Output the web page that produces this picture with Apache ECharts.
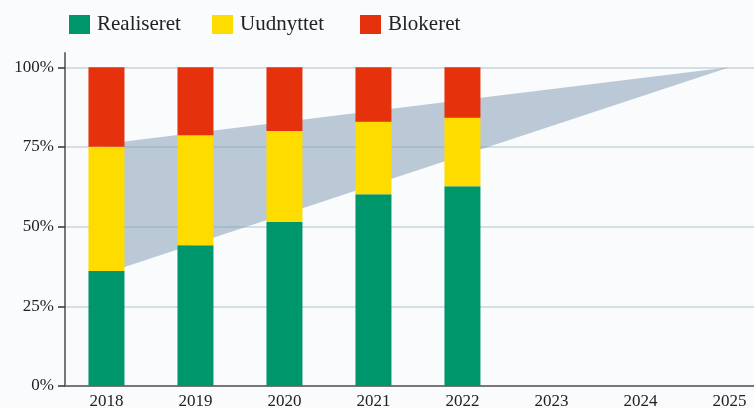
<!DOCTYPE html>
<html>
<head>
<meta charset="utf-8">
<script src="https://cdn.jsdelivr.net/npm/echarts@6/dist/echarts.min.js"></script>
<style>
html,body{margin:0;padding:0;background:#f9fbfd;}
#main{width:754px;height:408px;}
</style>
</head>
<body>
<div id="main"></div>
<script>
var years = [2018, 2019, 2020, 2021, 2022]
var axisYears = [2018, 2019, 2020, 2021, 2022, 2023, 2024, 2025]
var realiseret = [36.1, 44.2, 51.5, 60.2, 62.7]
var uudnyttet = [39.0, 34.5, 28.5, 22.7, 21.5]
var blokeret = [24.9, 21.3, 20.0, 17.1, 15.8]
// grå kile: nedre og øvre kant i start- og slutår
var kileYears = [2018, 2025]
var kileNedre = [35.5, 100]
var kileOevre = [76, 100]
var yTicks = [0, 25, 50, 75, 100]

var font = '"Liberation Serif", "DejaVu Serif", serif'
var farver = {Realiseret: '#00966c', Uudnyttet: '#ffdc00', Blokeret: '#e6320c'}

// [år, fra, til] for hvert segment i søjlen
function segments(values, below) {
    return years.map(function (y, i) {
        var base = 0
        for (var k = 0; k < below.length; k++) base += below[k][i]
        return [y, base, base + values[i]]
    })
}

function barItem(params, api) {
    var p0 = api.coord([api.value(0), api.value(1)])
    var p1 = api.coord([api.value(0), api.value(2)])
    return {
        type: 'rect',
        shape: {x: p0[0] - 18, y: p1[1], width: 36, height: p0[1] - p1[1]},
        style: {fill: api.visual('color')}
    }
}

function kileItem(params, api) {
    if (params.dataIndex !== 0) return null
    var pts = []
    for (var i = 0; i < kileYears.length; i++) pts.push(api.coord([kileYears[i], kileNedre[i]]))
    for (var j = kileYears.length - 1; j >= 0; j--) pts.push(api.coord([kileYears[j], kileOevre[j]]))
    return {
        type: 'polygon',
        shape: {points: pts},
        style: {fill: 'rgba(128,156,176,0.52)'}
    }
}

function legendAt(name, left) {
    return {
        left: left,
        top: 9,
        itemWidth: 21,
        itemHeight: 19,
        icon: 'rect',
        textStyle: {fontFamily: font, fontSize: 21, color: '#222', padding: [0, 0, 0, 2]},
        data: [name]
    }
}

var myChart = echarts.init(document.getElementById('main'));

var option = {
    backgroundColor: '#f9fbfd',
    textStyle: {fontFamily: font},
    legend: [
        legendAt('Realiseret', 64),
        legendAt('Uudnyttet', 207),
        legendAt('Blokeret', 355)
    ],
    grid: {
        left: 65,
        right: 0,
        top: 53,
        bottom: 22,
        outerBoundsMode: 'none',
        containLabel: false
    },
    xAxis: {
        type: 'value',
        min: 2017.534,
        max: 2025.276,
        axisLine: {show: true, lineStyle: {color: '#777', width: 2}},
        axisTick: {show: false},
        splitLine: {show: false},
        axisLabel: {
            customValues: axisYears,
            fontFamily: font,
            fontSize: 17,
            color: '#222',
            margin: 7,
            formatter: function (v) { return String(v); }
        }
    },
    yAxis: {
        type: 'value',
        min: 0,
        max: 104.5,
        interval: 25,
        axisLine: {show: true, lineStyle: {color: '#777', width: 2}},
        axisTick: {
            show: true,
            customValues: yTicks,
            length: 7,
            lineStyle: {color: '#333', width: 1.5}
        },
        splitLine: {
            show: true,
            lineStyle: {color: ['#c7d5dd', '#c7d5dd', '#c7d5dd', '#c7d5dd', '#c7d5dd', 'rgba(0,0,0,0)'], width: 1.5}
        },
        axisLabel: {
            customValues: yTicks,
            fontFamily: font,
            fontSize: 17,
            color: '#222',
            margin: 11,
            formatter: '{value}%'
        }
    },
    series: [
        {
            name: 'kile',
            type: 'custom',
            silent: true,
            renderItem: kileItem,
            encode: {x: 0, y: [1, 2]},
            data: kileYears.map(function (y, i) { return [y, kileNedre[i], kileOevre[i]] })
        },
        {
            name: 'Realiseret',
            type: 'custom',
            renderItem: barItem,
            itemStyle: {color: farver.Realiseret},
            encode: {x: 0, y: [1, 2]},
            data: segments(realiseret, [])
        },
        {
            name: 'Uudnyttet',
            type: 'custom',
            renderItem: barItem,
            itemStyle: {color: farver.Uudnyttet},
            encode: {x: 0, y: [1, 2]},
            data: segments(uudnyttet, [realiseret])
        },
        {
            name: 'Blokeret',
            type: 'custom',
            renderItem: barItem,
            itemStyle: {color: farver.Blokeret},
            encode: {x: 0, y: [1, 2]},
            data: segments(blokeret, [realiseret, uudnyttet])
        }
    ]
};
myChart.setOption(option);
</script>
</body>
</html>
